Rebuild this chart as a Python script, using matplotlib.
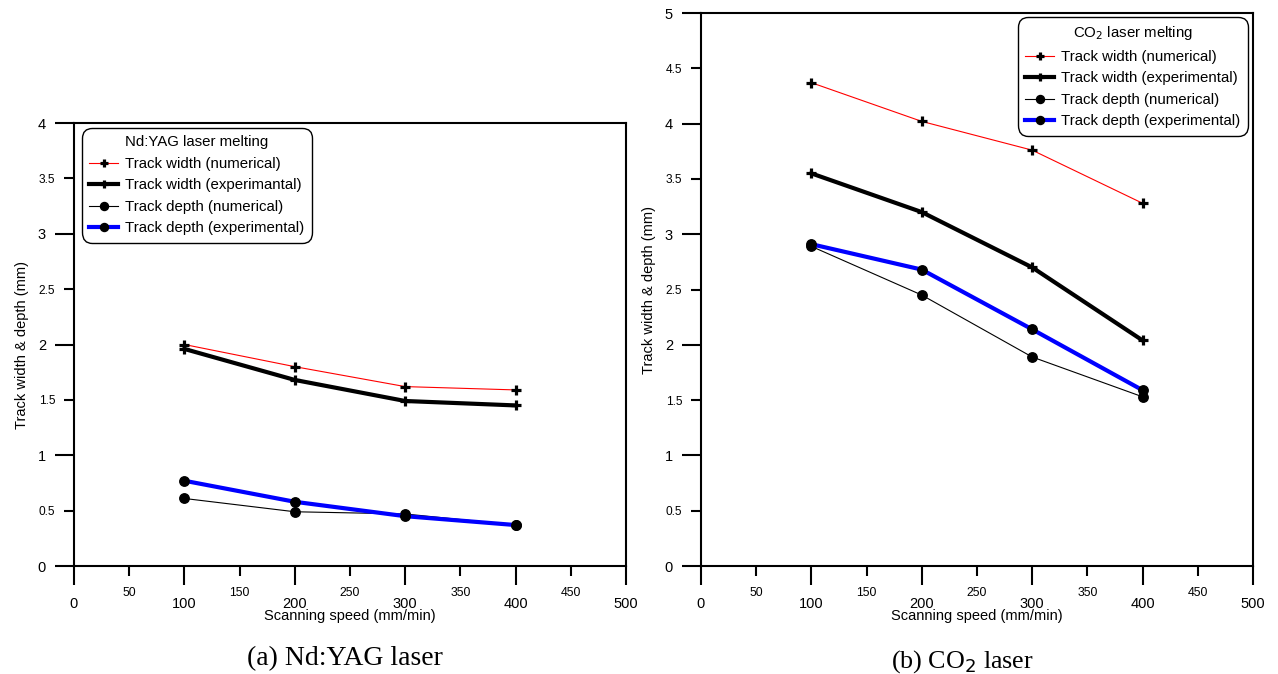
import matplotlib
matplotlib.use('Agg')
import matplotlib.pyplot as plt
from matplotlib.ticker import MultipleLocator, FuncFormatter

plt.rcParams['font.family'] = ['Liberation Sans', 'DejaVu Sans']

# Scanning speeds (mm/min)
speed = [100, 200, 300, 400]

# Nd:YAG laser melting (mm)
yag_width_num = [2.00, 1.80, 1.62, 1.59]
yag_width_exp = [1.96, 1.68, 1.49, 1.45]
yag_depth_num = [0.61, 0.49, 0.47, 0.37]
yag_depth_exp = [0.77, 0.58, 0.45, 0.37]

# CO2 laser melting (mm)
co2_width_num = [4.37, 4.02, 3.76, 3.28]
co2_width_exp = [3.55, 3.20, 2.70, 2.04]
co2_depth_num = [2.89, 2.45, 1.89, 1.53]
co2_depth_exp = [2.91, 2.68, 2.14, 1.59]

labels_a = ['Track width (numerical)', 'Track width (experimantal)',
            'Track depth (numerical)', 'Track depth (experimental)']
labels_b = ['Track width (numerical)', 'Track width (experimental)',
            'Track depth (numerical)', 'Track depth (experimental)']

fig = plt.figure(figsize=(12.78, 6.74), dpi=100)
ax1 = fig.add_axes([0.0579, 0.1602, 0.4319, 0.6573])
ax2 = fig.add_axes([0.5485, 0.1602, 0.4319, 0.8205])

fmt = FuncFormatter(lambda v, p: '%g' % v)


def draw(ax, wn, we, dn, de, labels, ymax, title, anchor):
    # thin red / thick black for widths, thin black / thick blue for depths
    ax.plot(speed, wn, color='red', lw=0.8, marker='+', ms=7, mew=2.3, mec='black', label=labels[0])
    ax.plot(speed, we, color='black', lw=3, marker='+', ms=7, mew=2.3, mec='black', label=labels[1])
    ax.plot(speed, dn, color='black', lw=0.8, marker='o', ms=6.8, mfc='black', mec='black', label=labels[2])
    ax.plot(speed, de, color='blue', lw=3, marker='o', ms=6.8, mfc='black', mec='black', label=labels[3])

    ax.set_xlim(0, 500)
    ax.set_ylim(0, ymax)
    ax.xaxis.set_major_locator(MultipleLocator(100))
    ax.xaxis.set_minor_locator(MultipleLocator(50))
    ax.yaxis.set_major_locator(MultipleLocator(1))
    ax.yaxis.set_minor_locator(MultipleLocator(0.5))
    for axis in (ax.xaxis, ax.yaxis):
        axis.set_major_formatter(fmt)
        axis.set_minor_formatter(fmt)

    ax.tick_params(which='major', direction='out', length=13.7, width=1.5)
    ax.tick_params(which='minor', direction='out', length=7, width=1.5)
    ax.tick_params(axis='y', which='major', labelsize=10.5, pad=6.5)
    ax.tick_params(axis='y', which='minor', labelsize=8.6, pad=6.5)
    ax.tick_params(axis='x', which='major', labelsize=10.5, pad=8.5)
    ax.tick_params(axis='x', which='minor', labelsize=8.8, pad=8)
    for s in ax.spines.values():
        s.set_linewidth(1.5)

    ax.set_xlabel('Scanning speed (mm/min)', fontsize=10.5, labelpad=-1)
    ax.set_ylabel('Track width & depth (mm)', fontsize=10.5, labelpad=6)

    leg = ax.legend(loc='upper left', bbox_to_anchor=anchor, title=title,
                    fontsize=10.8, title_fontsize=10.8, fancybox=True,
                    edgecolor='black', framealpha=1, handlelength=1.9,
                    labelspacing=0.5, borderpad=0.5, handletextpad=0.5,
                    borderaxespad=0, markerscale=0.85)
    leg.get_frame().set_linewidth(1.0)
    leg.get_frame().set_boxstyle('round,pad=0,rounding_size=0.7')


draw(ax1, yag_width_num, yag_width_exp, yag_depth_num, yag_depth_exp, labels_a, 4,
     'Nd:YAG laser melting', (0.0145, 0.989))
draw(ax2, co2_width_num, co2_width_exp, co2_depth_num, co2_depth_exp, labels_b, 5,
     'CO$_2$ laser melting', (0.574, 0.993))

fig.text(0.270, 0.0134, '(a) Nd:YAG laser', ha='center', va='baseline',
         family='Liberation Serif', fontsize=20)
fig.text(0.753, 0.0089, '(b) CO$_2$ laser', ha='center', va='baseline',
         family='Liberation Serif', fontsize=18.7)

plt.savefig('out.png', dpi=100)
